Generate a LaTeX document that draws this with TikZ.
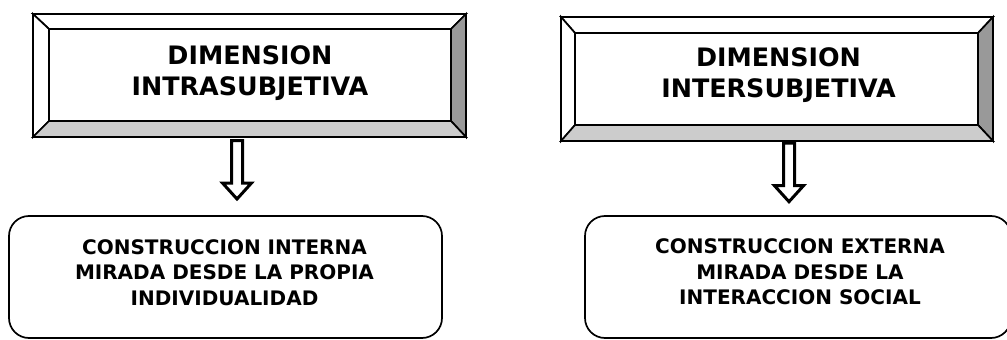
\documentclass[tikz,border=0pt]{standalone}
\usepackage{fontspec}
\setmainfont{DejaVu Sans}
\usetikzlibrary{calc}

\definecolor{bevelgray}{HTML}{999999}
\definecolor{bevellight}{HTML}{CCCCCC}

\tikzset{
  outerbox/.style={draw=black, line width=1.7pt, inner sep=0pt, outer sep=0pt},
  innerbox/.style={draw=black, line width=1.7pt, fill=white, inner sep=0pt, outer sep=0pt},
  bevel/.style={draw=black, line width=1.7pt, line join=miter},
  titletext/.style={align=center, text depth=0pt, inner sep=0pt,
    font=\bfseries\fontsize{25.4}{31}\selectfont},
  roundbox/.style={draw=black, line width=1.7pt, rounded corners=20pt, inner sep=0pt, outer sep=0pt},
  bodytext/.style={align=center, text depth=0pt, inner sep=0pt,
    font=\bfseries\fontsize{20}{25.5}\selectfont},
  blockarrow/.style={draw=black, line width=3pt, fill=white, line join=miter},
}

% bevelled frame between the nodes #1out and #1
\newcommand{\bevelframe}[1]{%
  \draw[bevel, fill=white] (#1out.north west) -- (#1out.north east) -- (#1.north east) -- (#1.north west) -- cycle;
  \draw[bevel, fill=white] (#1out.north west) -- (#1.north west) -- (#1.south west) -- (#1out.south west) -- cycle;
  \draw[bevel, fill=bevelgray] (#1out.north east) -- (#1out.south east) -- (#1.south east) -- (#1.north east) -- cycle;
  \draw[bevel, fill=bevellight] (#1out.south west) -- (#1out.south east) -- (#1.south east) -- (#1.south west) -- cycle;
}

% hollow block arrow hanging from a coordinate
\newcommand{\hollowarrow}[1]{%
  \draw[blockarrow, shift={(#1)}]
    (-5.5,0) -- (-5.5,42.5) -- (-14.5,42.5) -- (0,58.5) -- (14.5,42.5) -- (5.5,42.5) -- (5.5,0) -- cycle;
}

\begin{document}
\begin{tikzpicture}[x=1pt,y=-1pt]
  \useasboundingbox (0,0) rectangle (1007,340);

  % top frames
  \node[outerbox, minimum width=433pt, minimum height=123pt] (intraout) at (249.5,75.5) {};
  \node[innerbox, minimum width=402pt, minimum height=92pt] (intra) at (250,75) {};
  \bevelframe{intra}
  \node[titletext] (intratitle) at (250,70.5) {DIMENSION\\INTRASUBJETIVA};

  \node[outerbox, minimum width=432pt, minimum height=124pt] (interout) at (777,79) {};
  \node[innerbox, minimum width=403pt, minimum height=92pt] (inter) at (776.5,79) {};
  \bevelframe{inter}
  \node[titletext] (intertitle) at (778.5,72.5) {DIMENSION\\INTERSUBJETIVA};

  % arrows
  \coordinate (arrL) at (237,140.5);
  \coordinate (arrR) at (789,143.2);
  \hollowarrow{arrL}
  \hollowarrow{arrR}

  % bottom boxes
  \node[roundbox, minimum width=433pt, minimum height=122pt] (intern) at (225.5,277) {};
  \node[bodytext] (interntext) at (224.5,272.5)
    {CONSTRUCCION INTERNA\\MIRADA DESDE LA PROPIA\\INDIVIDUALIDAD};

  \node[roundbox, minimum width=426pt, minimum height=122pt] (extern) at (798,277) {};
  \node[bodytext] (externtext) at (800,272)
    {CONSTRUCCION EXTERNA\\MIRADA DESDE LA\\INTERACCION SOCIAL};
\end{tikzpicture}
\end{document}
